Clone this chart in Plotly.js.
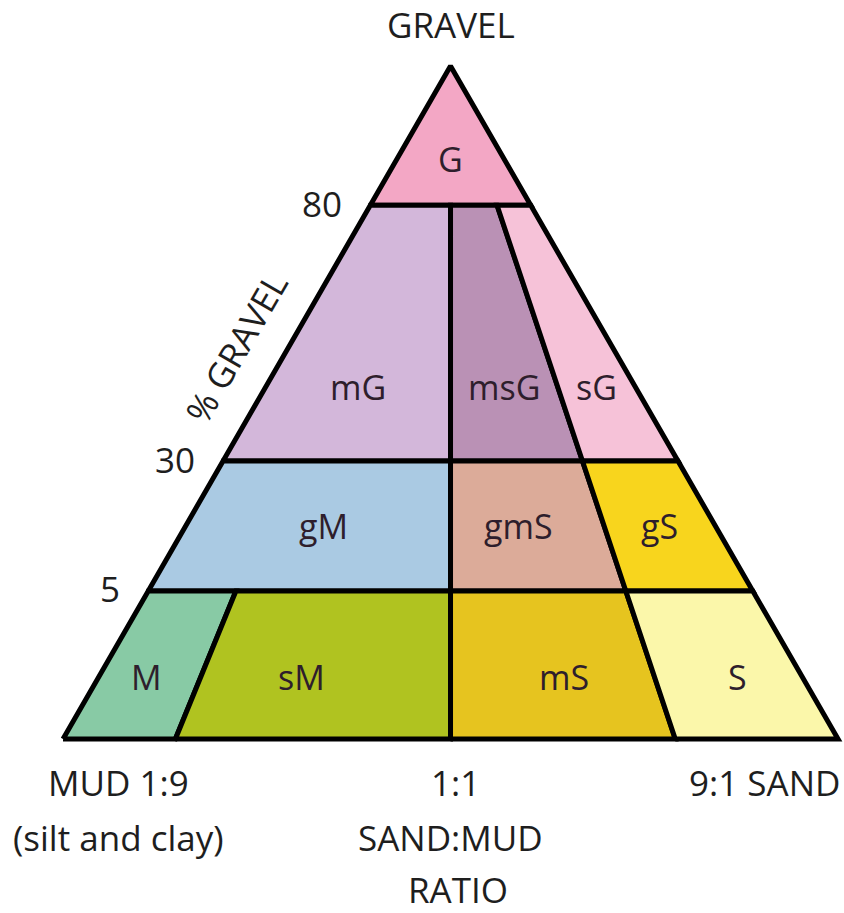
<!DOCTYPE html>
<html>
<head>
<meta charset="utf-8">
<script src="https://cdn.plot.ly/plotly-3.0.1.min.js"></script>
<style>
  html, body { margin: 0; padding: 0; background: #fff; }
  #chart { width: 844px; height: 913px; }
</style>
</head>
<body>
<div id="chart"></div>
<script>
// Folk gravel - sand - mud classification triangle

// % gravel class limits, and how far up the drawn triangle each one sits (the scale is stretched)
var gravelLimits = [0, 5, 30, 80, 100];
var gravelHeight = [0, 0.22, 0.413, 0.793, 1];
var gravelTicks = [5, 30, 80];

// sand:mud ratio limits, as the fraction across the triangle where they are drawn
var ratioLimits = [0, 0.145, 0.5, 0.79, 1];

var classNames = ["G", "mG", "msG", "sG", "gM", "gmS", "gS", "M", "sM", "mS", "S"];
var classGravel = [[80, 100], [30, 80], [30, 80], [30, 80], [5, 30], [5, 30], [5, 30], [0, 5], [0, 5], [0, 5], [0, 5]];
var classRatio = [[0, 1], [0, 0.5], [0.5, 0.79], [0.79, 1], [0, 0.5], [0.5, 0.79], [0.79, 1], [0, 0.145], [0.145, 0.5], [0.5, 0.79], [0.79, 1]];
var classColors = ["#f3a7c5", "#d3b7da", "#ba91b5", "#f6c2d8", "#aacae3", "#dcab99", "#f8d51d", "#88caa5", "#b0c320", "#e6c41f", "#fbf7aa"];

// stretched gravel scale -> height in the triangle
function heightOf(g) {
    for (var i = 1; i < gravelLimits.length; i++) {
        if (g <= gravelLimits[i]) {
            var t = (g - gravelLimits[i - 1]) / (gravelLimits[i] - gravelLimits[i - 1]);
            return gravelHeight[i - 1] + t * (gravelHeight[i] - gravelHeight[i - 1]);
        }
    }
    return 1;
}

// (ratio, gravel) -> x, y with the mud corner at 0,0 and the sand corner at 1,0
function toXY(r, g) {
    var h = heightOf(g);
    return [h / 2 + r * (1 - h), h];
}

// where inside each row the class name sits (fraction of the row height), and small sideways nudges
var labelLift = { 0: 0.42, 5: 0.5, 30: 0.29, 80: 0.33 };
var labelNudge = { gM: 5, gmS: -9, M: -3, sM: -24, mS: 11, S: 9 };

var labelFont = { family: "Open Sans", size: 34, color: "#2e1e2c" };
var axisFont = { family: "Open Sans", size: 35, color: "#1e1e1e" };

var traces = [];
var annotations = [];

classNames.forEach(function (name, i) {
    var g = classGravel[i], r = classRatio[i];
    var corners = [[r[0], g[0]], [r[1], g[0]], [r[1], g[1]], [r[0], g[1]], [r[0], g[0]]];
    var xs = [], ys = [];
    corners.forEach(function (c) {
        var p = toXY(c[0], c[1]);
        xs.push(p[0]);
        ys.push(p[1]);
    });
    traces.push({
        x: xs, y: ys,
        type: "scatter", mode: "lines",
        fill: "toself", fillcolor: classColors[i],
        line: { color: "#000", width: 5 },
        hoverinfo: "skip", showlegend: false
    });

    var h0 = heightOf(g[0]), h1 = heightOf(g[1]);
    var h = h0 + labelLift[g[0]] * (h1 - h0);
    var left = h / 2 + r[0] * (1 - h), right = h / 2 + r[1] * (1 - h);
    annotations.push({
        x: (left + right) / 2, y: h, text: name, showarrow: false,
        xshift: labelNudge[name] || 0, font: labelFont
    });
});

// % gravel ticks along the left side
gravelTicks.forEach(function (g) {
    var p = toXY(0, g);
    annotations.push({
        x: p[0], y: p[1], text: String(g), showarrow: false,
        xanchor: "right", yanchor: "middle", xshift: -26, yshift: 2, font: axisFont
    });
});

annotations.push({
    x: 0.223, y: 0.582, text: "% GRAVEL", showarrow: false,
    textangle: -60, font: axisFont
});

annotations.push({
    x: 0.5, y: 1, text: "GRAVEL", showarrow: false,
    yanchor: "middle", yshift: 41, font: axisFont
});

// sand:mud ratio labels under the base
annotations.push({ x: 0.072, y: 0, text: "MUD 1:9", showarrow: false, yshift: -43, font: axisFont });
annotations.push({ x: 0.072, y: 0, text: "(silt and clay)", showarrow: false, yshift: -98, font: axisFont });
annotations.push({ x: 0.507, y: 0, text: "1:1", showarrow: false, yshift: -43, font: axisFont });
annotations.push({ x: 0.5, y: 0, text: "SAND:MUD", showarrow: false, yshift: -98, font: axisFont });
annotations.push({ x: 0.51, y: 0, text: "RATIO", showarrow: false, yshift: -150, font: axisFont });
annotations.push({ x: 0.9045, y: 0, text: "9:1 SAND", showarrow: false, yshift: -43, font: axisFont });

var layout = {
    width: 844,
    height: 913,
    margin: { l: 0, r: 0, t: 0, b: 0 },
    paper_bgcolor: "#fff",
    plot_bgcolor: "#fff",
    xaxis: { range: [-0.0813, 1.0077], visible: false, fixedrange: true },
    yaxis: { range: [-0.2585, 1.098], visible: false, fixedrange: true },
    annotations: annotations
};

Plotly.newPlot("chart", traces, layout, { displayModeBar: false, staticPlot: true });
</script>
</body>
</html>
